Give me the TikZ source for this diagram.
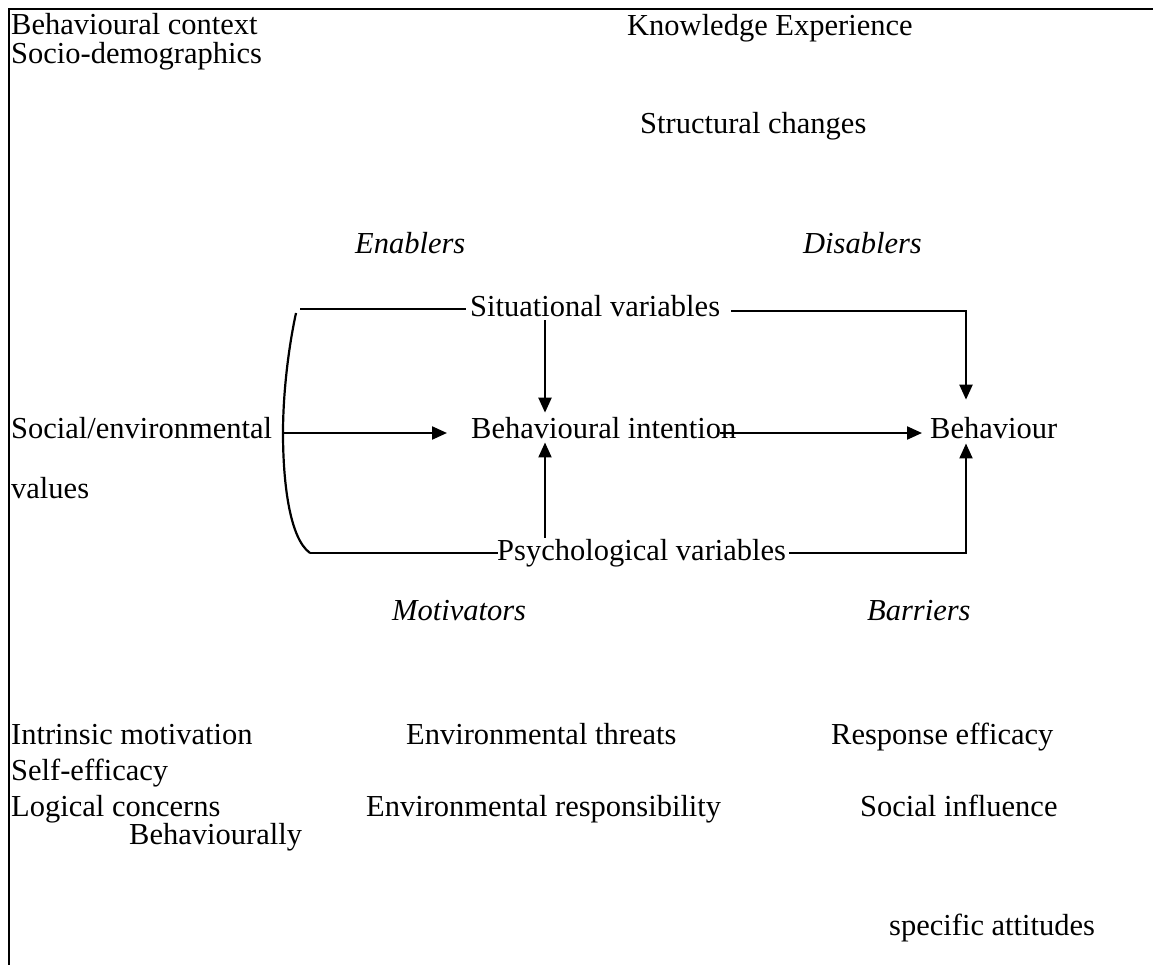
\documentclass[tikz,border=0pt]{standalone}
\usepackage{fontspec}
\setmainfont{Liberation Serif}
\usetikzlibrary{arrows.meta,calc}
\begin{document}
\begin{tikzpicture}[x=1pt,y=-1pt,
  lbl/.style={anchor=base west,inner sep=0pt,font=\fontsize{30.5}{36}\selectfont},
  ital/.style={lbl,font=\fontsize{30.5}{36}\selectfont\itshape},
  link/.style={line width=2.2pt},
  arr/.style={link,-{Triangle[length=15pt,width=13pt]}},
  frame/.style={line width=2.5pt}]
\useasboundingbox (0,0) rectangle (1153,965);

% open frame: left and top edges only
\draw[frame] (9,965) -- (9,9) -- (1153,9);

% context labels
\node[lbl] (ctx)  at (11,35)  {Behavioural context};
\node[lbl] (soc)  at (11,64)  {Socio-demographics};
\node[lbl] (know) at (627,36) {Knowledge Experience};
\node[lbl] (str)  at (640,134) {Structural changes};

% enablers / disablers
\node[ital] (ena) at (355,254) {Enablers};
\node[ital] (dis) at (803,254) {Disablers};

% core model
\node[lbl] (sit) at (470,317) {Situational variables};
\node[lbl] (val) at (11,438)  {Social/environmental};
\node[lbl] (va2) at (11,498)  {values};
\node[lbl] (int) at (471,438) {Behavioural intention};
\node[lbl] (beh) at (930,438) {Behaviour};
\node[lbl] (psy) at (497,560) {Psychological variables};

% motivators / barriers
\node[ital] (mot) at (392,620) {Motivators};
\node[ital] (bar) at (867,620) {Barriers};

% lists of factors
\node[lbl] (intr) at (11,744)  {Intrinsic motivation};
\node[lbl] (self) at (11,780)  {Self-efficacy};
\node[lbl] (thr)  at (406,744) {Environmental threats};
\node[lbl] (resp) at (831,744) {Response efficacy};
\node[lbl] (logc) at (11,816)  {Logical concerns};
\node[lbl] (envr) at (366,816) {Environmental responsibility};
\node[lbl] (sinf) at (860,816) {Social influence};
\node[lbl] (bhly) at (129,844) {Behaviourally};
\node[lbl] (spec) at (889,935) {specific attitudes};

% bracket gathering the values
\coordinate (brTop) at (296,313);
\coordinate (brMid) at (283,433);
\coordinate (brBot) at (310,553);
\draw[link] (brTop) .. controls (288,350) and (283,395) .. (brMid)
            .. controls (283,480) and (289,538) .. (brBot);

% helper columns
\coordinate (colA) at (545,0);
\coordinate (colB) at (966,0);
\coordinate (topL) at (300,0);

% situational variables
\draw[link] (topL |- brTop) ++(0,-4) coordinate (sL)
            -- ($(sit.base west)+(-4,-8)$);
\draw[arr] ($(sit.base east)+(11,-6)$) -| ($(colB |- beh.north)+(0,-17)$);
\draw[arr] ($(colA |- sit.south)+(0,3)$) -- ($(colA |- int.north)+(0,-4)$);

% values to intention
\draw[arr] (brMid) -- ($(int.west |- brMid)+(-24,0)$);

% intention to behaviour
\draw[arr] ($(int.east |- brMid)+(-17,0)$) -- ($(beh.west |- brMid)+(-8,0)$);

% psychological variables
\draw[link] (brBot) -- ($(psy.base west)+(1,-7)$);
\draw[arr] ($(psy.base east)+(3,-7)$) -| ($(colB |- beh.south)+(0,5)$);
\draw[arr] ($(colA |- psy.north)+(0,-1)$) -- ($(colA |- int.south)+(0,4)$);
\end{tikzpicture}
\end{document}
